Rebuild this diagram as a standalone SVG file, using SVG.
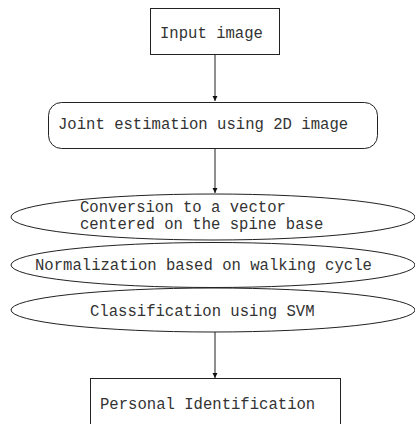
<svg xmlns="http://www.w3.org/2000/svg" width="415" height="424" viewBox="0 0 415 424">
<style>
.n{fill:#fff;stroke:#222;stroke-width:1}
.t{font-family:"Courier New","Nimbus Mono PS","FreeMono","Liberation Mono",monospace;font-size:15.6px;fill:#333}
.c{stroke:#444;stroke-width:1.2;fill:none;marker-end:url(#ah)}
</style>
<defs>
<marker id="ah" markerWidth="6" markerHeight="6" refX="5" refY="3" orient="auto" markerUnits="userSpaceOnUse">
<path d="M0,0.5 L5,3 L0,5.5 z" fill="#111"/>
</marker>
</defs>
<rect width="415" height="424" fill="#fff"/>
<g id="connectors">
<line class="c" x1="215" y1="54" x2="215" y2="101"/>
<line class="c" x1="215" y1="148" x2="215" y2="193"/>
<line class="c" x1="215" y1="332" x2="215" y2="378"/>
</g>
<g id="n1"><rect class="n" x="150.5" y="8.5" width="129" height="46"/><text class="t" x="160" y="38">Input image</text></g>
<g id="n2"><rect class="n" x="48.5" y="102.5" width="329" height="46" rx="13"/><text class="t" x="58" y="129">Joint estimation using 2D image</text></g>
<g id="n3"><ellipse class="n" cx="213" cy="217" rx="202" ry="23"/><text class="t" x="80" y="212">Conversion to a vector</text><text class="t" x="80" y="229">centered on the spine base</text></g>
<g id="n4"><ellipse class="n" cx="213" cy="265" rx="202" ry="22.5"/><text class="t" x="35" y="270">Normalization based on walking cycle</text></g>
<g id="n5"><ellipse class="n" cx="213" cy="310" rx="202" ry="22"/><text class="t" x="90" y="316">Classification using SVM</text></g>
<g id="n6"><rect class="n" x="90.5" y="378.5" width="250" height="60"/><text class="t" x="100" y="409">Personal Identification</text></g>
</svg>
